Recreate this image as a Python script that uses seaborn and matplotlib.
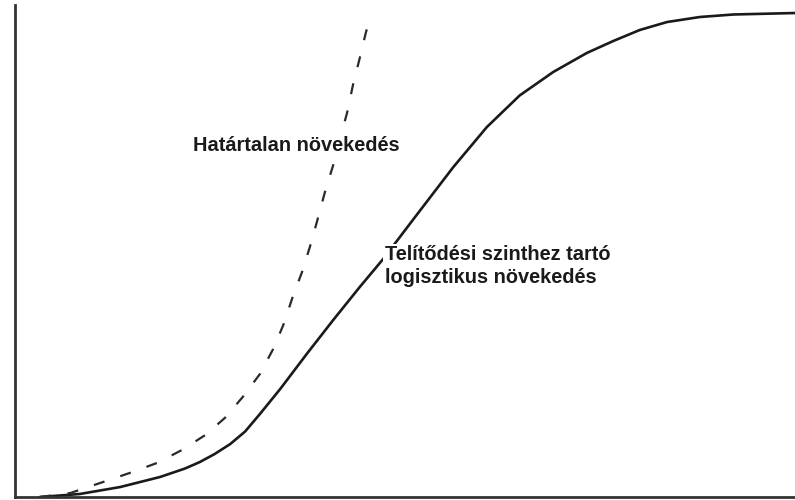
import numpy as np
import pandas as pd
import matplotlib
matplotlib.use('Agg')
import matplotlib.pyplot as plt
import seaborn as sns

# Logistic (saturating) growth curve
logistic_x = [0.32, 0.83, 1.35, 1.86, 2.18, 2.37, 2.56, 2.76, 2.95, 3.14, 3.40, 3.74, 4.08,
              4.42, 4.72, 5.10, 5.62, 6.05, 6.47, 6.90, 7.33, 7.67, 8.01, 8.36, 8.78, 9.21, 10.0]
logistic_y = [0.0, 0.61, 2.03, 4.07, 5.79, 7.11, 8.74, 10.77, 13.31, 16.87, 21.95, 29.07, 35.98,
              42.68, 48.37, 56.30, 67.07, 75.20, 81.61, 86.38, 90.24, 92.68, 94.92, 96.54, 97.56,
              98.07, 98.37]

# Unbounded (exponential) growth curve
unbounded_x = [0.32, 0.71, 1.13, 1.47, 1.82, 2.14, 2.44, 2.69, 2.92, 3.14, 3.31, 3.44,
               3.56, 3.68, 3.78, 3.87, 3.97, 4.08, 4.17, 4.26, 4.33, 4.42, 4.50, 4.56]
unbounded_y = [0.0, 0.81, 3.05, 4.88, 6.91, 9.55, 12.60, 16.06, 20.33, 25.00, 30.08, 34.96,
               40.65, 45.73, 50.81, 55.89, 61.79, 67.48, 72.97, 78.25, 83.54, 89.23, 94.51, 97.5]

label_unbounded = 'Határtalan növekedés'
label_logistic = 'Telítődési szinthez tartó\nlogisztikus növekedés'

sns.set_style('white')
plt.rcParams['font.family'] = ['Liberation Sans', 'DejaVu Sans']

fig = plt.figure(figsize=(7.95, 5.0), dpi=100)
ax = fig.add_axes([15 / 795, 3 / 500, 1 - 15 / 795, 492 / 500])

df_log = pd.DataFrame({'x': logistic_x, 'y': logistic_y})
df_unb = pd.DataFrame({'x': unbounded_x, 'y': unbounded_y})

sns.lineplot(data=df_log, x='x', y='y', ax=ax, color='#1a1a1a', linewidth=1.9,
             sort=False, estimator=None)
sns.lineplot(data=df_unb, x='x', y='y', ax=ax, color='#2a2a2a', linewidth=1.6,
             sort=False, estimator=None)
ax.lines[-1].set_dashes((5, 7.5))
for ln in ax.lines:
    ln.set_solid_joinstyle('round')
    ln.set_dash_joinstyle('round')

# labels sit on a white box, so the curves disappear behind them
box = dict(facecolor='white', edgecolor='none', pad=1.0)
ax.text(2.28, 71.5, label_unbounded, fontsize=14.4, fontweight='bold',
        color='#1a1a1a', va='center', ha='left', bbox=box, zorder=5)
ax.text(4.74, 51.2, label_logistic, fontsize=14.4, fontweight='bold',
        color='#1a1a1a', va='top', ha='left', linespacing=1.25, bbox=box, zorder=5)

ax.set_xlim(0, 10)
ax.set_ylim(0, 100)
ax.set_xticks([])
ax.set_yticks([])
ax.set_xlabel('')
ax.set_ylabel('')
sns.despine(ax=ax, top=True, right=True)
for side in ['left', 'bottom']:
    ax.spines[side].set_color('#333333')
    ax.spines[side].set_linewidth(2.0)

fig.savefig('out.png', dpi=100, facecolor='white')
